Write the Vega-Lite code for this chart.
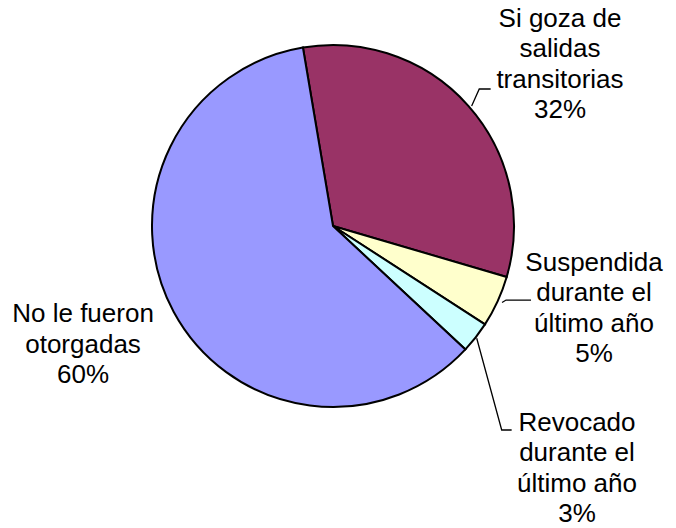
{
  "$schema": "https://vega.github.io/schema/vega-lite/v6.json",
  "width": 676,
  "height": 528,
  "autosize": "none",
  "padding": 0,
  "background": "white",
  "view": {"stroke": null},
  "datasets": {
    "slices": [
      {"category": "Si goza de salidas transitorias", "pct": 32.2, "ord": 1},
      {"category": "Suspendida durante el último año", "pct": 4.6, "ord": 2},
      {"category": "Revocado durante el último año", "pct": 2.8, "ord": 3},
      {"category": "No le fueron otorgadas", "pct": 60.4, "ord": 4}
    ],
    "labels": [
      {"label": "Si goza de\nsalidas\ntransitorias\n32%", "lx": 125.4, "ly": 114.4},
      {"label": "Suspendida\ndurante el\núltimo año\n5%", "lx": 144.2, "ly": -20.3},
      {"label": "Revocado\ndurante el\núltimo año\n3%", "lx": 134.8, "ly": -108.7},
      {"label": "No le fueron\notorgadas\n60%", "lx": -138.1, "ly": -48.8}
    ],
    "leaders": [
      {"seg": "a", "pt": 1, "lx": 76.6, "ly": 66.3},
      {"seg": "a", "pt": 2, "lx": 80.8, "ly": 75.7},
      {"seg": "a", "pt": 3, "lx": 87.1, "ly": 75.7},
      {"seg": "b", "pt": 1, "lx": 93.4, "ly": -42.3},
      {"seg": "b", "pt": 2, "lx": 95.6, "ly": -40.9},
      {"seg": "b", "pt": 3, "lx": 109.4, "ly": -40.9},
      {"seg": "c", "pt": 1, "lx": 79.4, "ly": -62.0},
      {"seg": "c", "pt": 2, "lx": 93.2, "ly": -112.7},
      {"seg": "c", "pt": 3, "lx": 98.7, "ly": -112.7}
    ]
  },
  "layer": [
    {
      "data": {"name": "slices"},
      "mark": {"type": "arc", "radius": 181, "stroke": "black", "strokeWidth": 2, "strokeJoin": "miter"},
      "encoding": {
        "x": {"datum": 0, "type": "quantitative", "scale": {"domain": [-183.98, 189.5], "nice": false, "zero": false}, "axis": null},
        "y": {"datum": 0, "type": "quantitative", "scale": {"domain": [-166.85, 124.86], "nice": false, "zero": false}, "axis": null},
        "theta": {"field": "pct", "type": "quantitative", "stack": true, "scale": {"range": [-0.167, 6.1162]}},
        "order": {"field": "ord", "type": "quantitative"},
        "color": {
          "field": "category",
          "type": "nominal",
          "scale": {
            "domain": ["Si goza de salidas transitorias", "Suspendida durante el último año", "Revocado durante el último año", "No le fueron otorgadas"],
            "range": ["#993366", "#FFFFCC", "#CCFFFF", "#9999FF"]
          },
          "legend": null
        }
      }
    },
    {
      "data": {"name": "leaders"},
      "mark": {"type": "line", "color": "black", "strokeWidth": 1.3},
      "encoding": {
        "x": {"field": "lx", "type": "quantitative", "scale": {"domain": [-183.98, 189.5], "nice": false, "zero": false}, "axis": null},
        "y": {"field": "ly", "type": "quantitative", "scale": {"domain": [-166.85, 124.86], "nice": false, "zero": false}, "axis": null},
        "detail": {"field": "seg", "type": "nominal"},
        "order": {"field": "pt", "type": "quantitative"}
      }
    },
    {
      "data": {"name": "labels"},
      "mark": {"type": "text", "font": "Liberation Sans", "fontSize": 26, "lineHeight": 30.5, "lineBreak": "\n", "align": "center", "baseline": "middle", "color": "black"},
      "encoding": {
        "x": {"field": "lx", "type": "quantitative", "scale": {"domain": [-183.98, 189.5], "nice": false, "zero": false}, "axis": null},
        "y": {"field": "ly", "type": "quantitative", "scale": {"domain": [-166.85, 124.86], "nice": false, "zero": false}, "axis": null},
        "text": {"field": "label", "type": "nominal"}
      }
    }
  ]
}
